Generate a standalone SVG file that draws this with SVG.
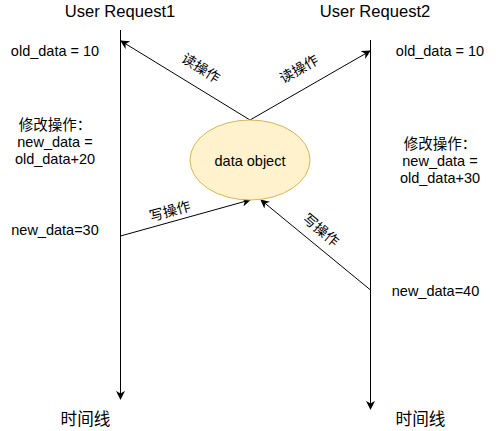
<svg xmlns="http://www.w3.org/2000/svg" width="496" height="431" viewBox="0 0 496 431">
<style>
text{font-family:"Liberation Sans","Noto Sans CJK SC",Arial,sans-serif;fill:#000;}
.t{font-size:14.5px;text-anchor:middle;}
.h{font-size:16.6px;text-anchor:middle;}
.c{font-size:14px;text-anchor:middle;dominant-baseline:central;}
.ln{stroke:#000;stroke-width:1;fill:none;}
</style>
<defs>
<marker id="ah" viewBox="0 0 10 10" refX="9" refY="5" markerWidth="9" markerHeight="9" markerUnits="userSpaceOnUse" orient="auto">
<path d="M0,0 L10,5 L0,10 L3,5 Z" fill="#000"/>
</marker>
</defs>
<rect width="496" height="431" fill="#fff"/>
<g id="connectors">
<line class="ln" x1="120.5" y1="30" x2="120.5" y2="399" marker-end="url(#ah)"/>
<line class="ln" x1="370.5" y1="40" x2="370.5" y2="409" marker-end="url(#ah)"/>
<line class="ln" x1="250" y1="120" x2="121" y2="41" marker-end="url(#ah)"/>
<line class="ln" x1="250" y1="120" x2="370" y2="51" marker-end="url(#ah)"/>
<line class="ln" x1="120.5" y1="236" x2="250" y2="200" marker-end="url(#ah)"/>
<line class="ln" x1="370.5" y1="290" x2="261" y2="200" marker-end="url(#ah)"/>
<text class="c" transform="translate(201,68) rotate(32)">读操作</text>
<text class="c" transform="translate(299,69) rotate(-30)">读操作</text>
<text class="c" transform="translate(170,211) rotate(-15.5)">写操作</text>
<text class="c" transform="translate(321,230) rotate(40)">写操作</text>
</g>
<g id="data-object">
<ellipse cx="250" cy="160" rx="60" ry="40" fill="#fff2cc" stroke="#d6b656"/>
<text class="t" x="250" y="165.5">data object</text>
</g>
<g id="user-request1">
<text class="h" x="120" y="17">User Request1</text>
<text class="t" x="55" y="56">old_data = 10</text>
<text class="t" x="55" y="129.5">修改操作：</text>
<text class="t" x="55" y="146.5">new_data =</text>
<text class="t" x="55" y="163.5">old_data+20</text>
<text class="t" x="55" y="235">new_data=30</text>
<text class="h" x="85.5" y="425">时间线</text>
</g>
<g id="user-request2">
<text class="h" x="375" y="17">User Request2</text>
<text class="t" x="440" y="56">old_data = 10</text>
<text class="t" x="440" y="149">修改操作：</text>
<text class="t" x="440" y="166">new_data =</text>
<text class="t" x="440" y="183">old_data+30</text>
<text class="t" x="435.5" y="296">new_data=40</text>
<text class="h" x="420.5" y="425">时间线</text>
</g>
</svg>
